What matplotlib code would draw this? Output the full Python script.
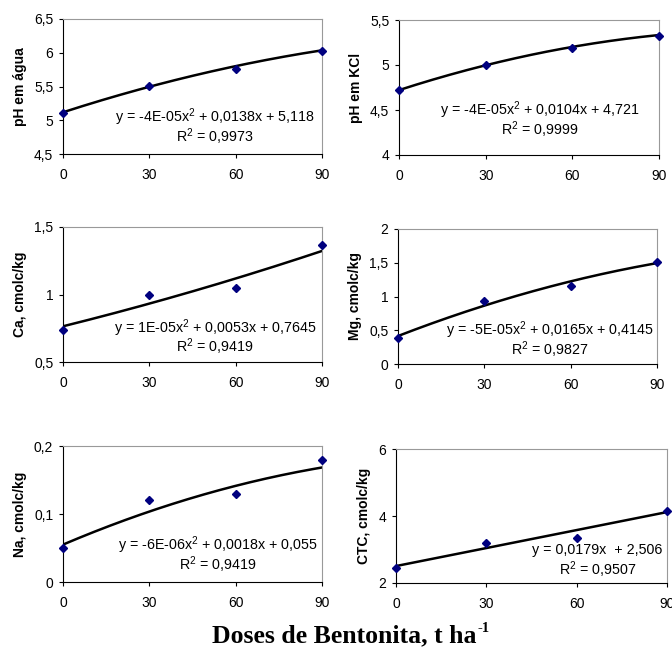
import numpy as np
import matplotlib
matplotlib.use("Agg")
import matplotlib.pyplot as plt
from matplotlib.ticker import FuncFormatter

plt.rcParams["font.family"] = ["Liberation Sans", "DejaVu Sans"]
plt.rcParams["mathtext.default"] = "regular"

# Data
doses = [0, 30, 60, 90]

ph_agua = [5.11, 5.51, 5.76, 6.03]
ph_kcl = [4.72, 5.00, 5.19, 5.32]
ca = [0.74, 1.00, 1.05, 1.37]
mg = [0.39, 0.93, 1.15, 1.51]
na = [0.050, 0.120, 0.130, 0.179]
ctc = [2.45, 3.20, 3.35, 4.15]

# trendline coefficients as printed on the chart
fit_ph_agua = [-4e-05, 0.0138, 5.118]
fit_ph_kcl = [-4e-05, 0.0104, 4.721]
fit_ca = [1e-05, 0.0053, 0.7645]
fit_mg = [-5e-05, 0.0165, 0.4145]
fit_na = [-6e-06, 0.0018, 0.055]
fit_ctc = [0.0179, 2.506]

eq_ph_agua = "y = -4E-05x$^2$ + 0,0138x + 5,118"
eq_ph_kcl = "y = -4E-05x$^2$ + 0,0104x + 4,721"
eq_ca = "y = 1E-05x$^2$ + 0,0053x + 0,7645"
eq_mg = "y = -5E-05x$^2$ + 0,0165x + 0,4145"
eq_na = "y = -6E-06x$^2$ + 0,0018x + 0,055"
eq_ctc = "y = 0,0179x  + 2,506"

r2_ph_agua = "R$^2$ = 0,9973"
r2_ph_kcl = "R$^2$ = 0,9999"
r2_ca = "R$^2$ = 0,9419"
r2_mg = "R$^2$ = 0,9827"
r2_na = "R$^2$ = 0,9419"
r2_ctc = "R$^2$ = 0,9507"

panels = [
    # (rect in px: left, top, right, bottom), y, fit, ylabel, yticks, eq, r2, eq pos
    ((63, 19, 322, 154), ph_agua, fit_ph_agua, "pH em água", [4.5, 5, 5.5, 6, 6.5], eq_ph_agua, r2_ph_agua, (0.587, 0.274, 0.126)),
    ((399, 20, 659, 155), ph_kcl, fit_ph_kcl, "pH em KCl", [4, 4.5, 5, 5.5], eq_ph_kcl, r2_ph_kcl, (0.542, 0.333, 0.185)),
    ((63, 227, 322, 362), ca, fit_ca, "Ca, cmolc/kg", [0.5, 1, 1.5], eq_ca, r2_ca, (0.587, 0.252, 0.110)),
    ((398, 229, 657, 364), mg, fit_mg, "Mg, cmolc/kg", [0, 0.5, 1, 1.5, 2], eq_mg, r2_mg, (0.587, 0.250, 0.104)),
    ((63, 446, 322, 582), na, fit_na, "Na, cmolc/kg", [0, 0.1, 0.2], eq_na, r2_na, (0.596, 0.272, 0.125)),
    ((396, 449, 667, 583), ctc, fit_ctc, "CTC, cmolc/kg", [2, 4, 6], eq_ctc, r2_ctc, (0.744, 0.246, 0.097)),
]

W, H = 672, 649
fig = plt.figure(figsize=(W / 100, H / 100), dpi=100)

comma = FuncFormatter(lambda v, p: ("%g" % v).replace(".", ","))
xs = np.linspace(0, 90, 200)

for (l, t, r, b), y, fit, ylab, yt, eq, r2, (ex, ey, ry) in panels:
    ax = fig.add_axes([l / W, 1 - b / H, (r - l) / W, (b - t) / H])
    ax.plot(xs, np.polyval(fit, xs), color="black", lw=1.8, zorder=2)
    ax.plot(doses, y, "D", color="#00007f", ms=4.5, zorder=3, clip_on=False)
    ax.set_xlim(0, 90)
    ax.set_ylim(yt[0], yt[-1])
    ax.set_xticks(doses)
    ax.set_yticks(yt)
    ax.yaxis.set_major_formatter(comma)
    ax.tick_params(labelsize=10, length=3, width=0.8, direction="out", pad=4)
    ax.tick_params(axis="x", pad=7)
    for s in ["top", "right"]:
        ax.spines[s].set_color("#999999")
    for s in ["left", "bottom"]:
        ax.spines[s].set_linewidth(0.8)
    ax.set_ylabel(ylab, fontsize=10, fontweight="bold", labelpad=5)
    ax.text(ex, ey, eq, transform=ax.transAxes, ha="center", va="center", fontsize=10.3)
    ax.text(ex, ry, r2, transform=ax.transAxes, ha="center", va="center", fontsize=10.3)

# x-axis title with a small "-1" superscript
title = fig.text(212 / W, 1 - 642 / H, "Doses de Bentonita, t ha", ha="left", va="baseline",
                 fontsize=18.5, fontweight="bold", family="Liberation Serif")
fig.canvas.draw()
bb = title.get_window_extent()
fig.text((bb.x1 + 1) / W, 1 - 632 / H, "-1", ha="left", va="baseline",
         fontsize=10.5, fontweight="bold", family="Liberation Serif")

plt.savefig("out.png", dpi=100)
